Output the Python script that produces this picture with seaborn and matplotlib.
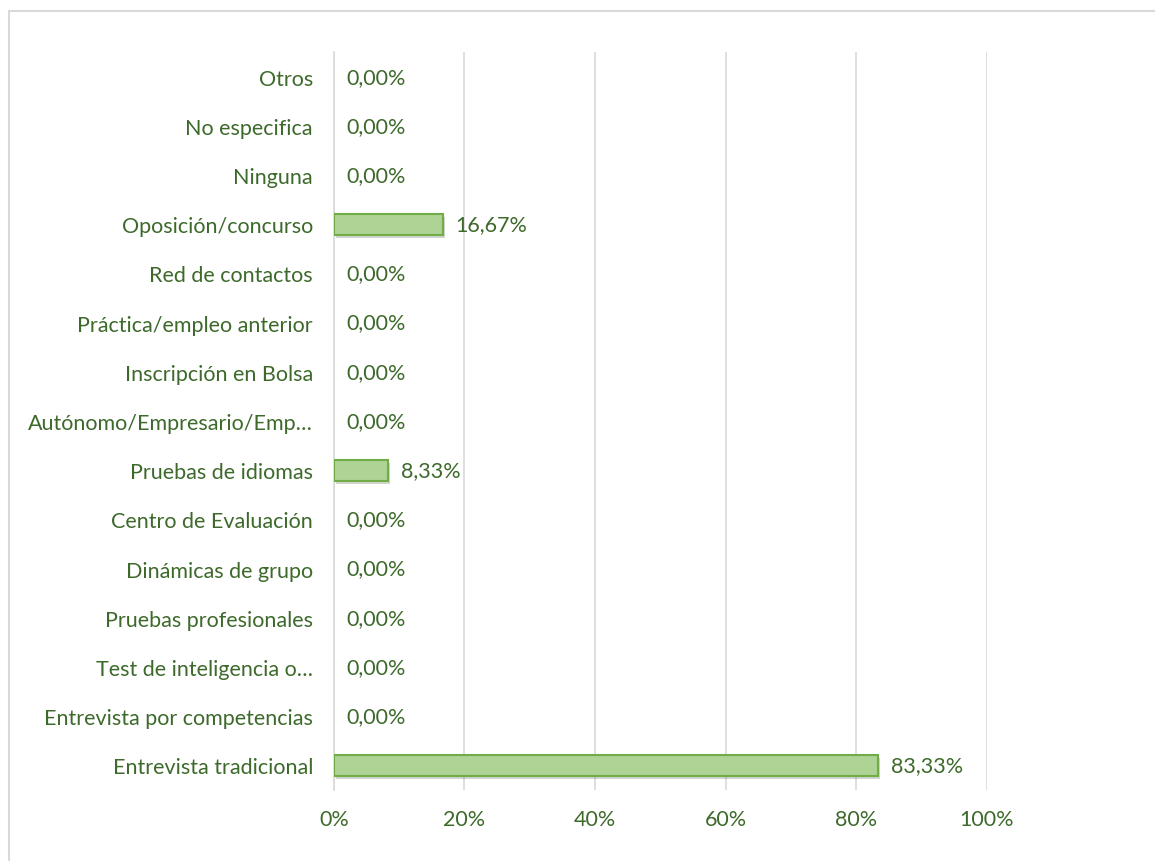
import numpy as np
import pandas as pd
import seaborn as sns
import matplotlib.pyplot as plt
import matplotlib.patheffects as pe
from matplotlib.patches import Rectangle

sns.set_theme(style="white")
plt.rcParams['font.family'] = ['Lato', 'DejaVu Sans']

categorias = ["Otros", "No especifica", "Ninguna", "Oposición/concurso",
              "Red de contactos", "Práctica/empleo anterior",
              "Inscripción en Bolsa", "Autónomo/Empresario/Emp…",
              "Pruebas de idiomas", "Centro de Evaluación",
              "Dinámicas de grupo", "Pruebas profesionales",
              "Test de inteligencia o…", "Entrevista por competencias",
              "Entrevista tradicional"]
valores = [0.0, 0.0, 0.0, 16.67, 0.0, 0.0, 0.0, 0.0, 8.33, 0.0, 0.0, 0.0,
           0.0, 0.0, 83.33]
etiquetas = ["0,00%", "0,00%", "0,00%", "16,67%", "0,00%", "0,00%", "0,00%",
             "0,00%", "8,33%", "0,00%", "0,00%", "0,00%", "0,00%", "0,00%",
             "83,33%"]
ticks_x = [0, 20, 40, 60, 80, 100]

df = pd.DataFrame({"cat": categorias, "val": valores})
verde = "#3D6A2B"

fig = plt.figure(figsize=(11.55, 8.62), dpi=100)
ax = fig.add_axes([0.289, 0.0825, 0.5655, 0.856])

sns.barplot(data=df, y="cat", x="val", orient="h", color="#ADD395",
            saturation=1, width=0.43, edgecolor="#70AD47", linewidth=1.5,
            ax=ax, zorder=3)
for p, v in zip(ax.patches, valores):
    if v == 0:
        p.set_visible(False)
    else:
        p.set_path_effects([pe.SimplePatchShadow(offset=(1.5, -2.5),
                                                 alpha=0.22), pe.Normal()])

ax.bar_label(ax.containers[0], labels=etiquetas, padding=9,
             color=verde, fontsize=15.5)

ax.set_xlim(0, 100)
ax.set_xticks(ticks_x)
ax.set_xticklabels([f"{t}%" for t in ticks_x])
ax.xaxis.grid(True, color="#D9D9D9", linewidth=1.2, zorder=0)
ax.set_axisbelow(True)
ax.set_xlabel("")
ax.set_ylabel("")
for s in ["top", "right", "bottom"]:
    ax.spines[s].set_visible(False)
ax.spines["left"].set_color("#D9D9D9")
ax.spines["left"].set_linewidth(1.2)
ax.tick_params(axis="both", length=0, labelsize=15.5, colors=verde)
ax.tick_params(axis="y", pad=15)
ax.tick_params(axis="x", pad=14)

fig.patches.append(Rectangle((9 / 1155, -0.1), 1.0, 1.1 - 12 / 862,
                             transform=fig.transFigure, fill=False,
                             edgecolor="#D9D9D9", linewidth=1.5))

fig.savefig("out.png", dpi=100)
